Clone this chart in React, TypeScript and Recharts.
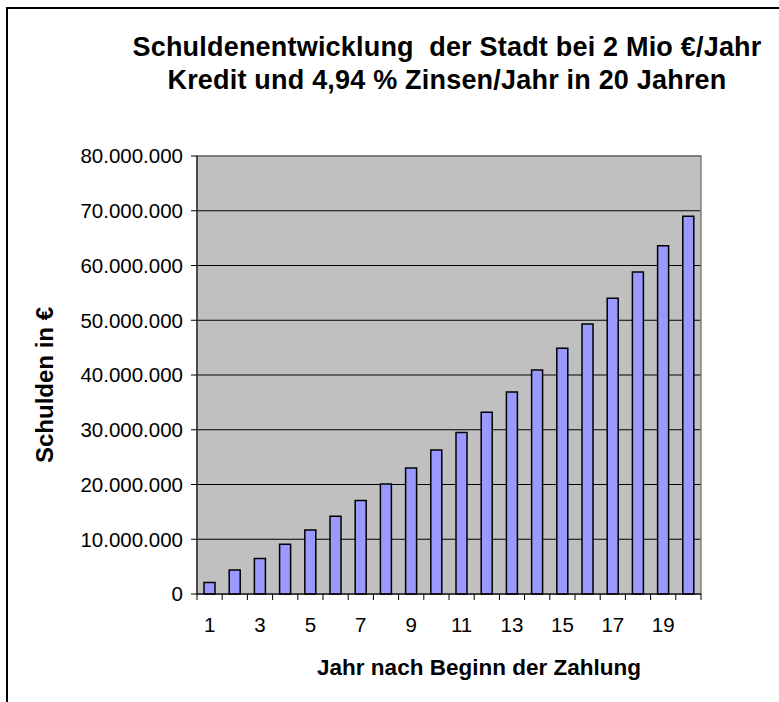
import { Bar, BarChart, CartesianGrid, ReferenceArea, XAxis, YAxis } from "recharts";

const years = ["1", "2", "3", "4", "5", "6", "7", "8", "9", "10", "11", "12", "13", "14", "15", "16", "17", "18", "19", "20"];
const schulden = [
  2100000, 4400000, 6500000, 9100000, 11700000, 14200000, 17100000, 20100000, 23000000, 26300000,
  29500000, 33200000, 36900000, 40900000, 44900000, 49300000, 54000000, 58800000, 63600000, 69000000,
];
const yTicks = [0, 10000000, 20000000, 30000000, 40000000, 50000000, 60000000, 70000000, 80000000];

const data = years.map((jahr, i) => ({ jahr, schulden: schulden[i] }));

const font = "'Liberation Sans', Arial, sans-serif";
const W = 779;
const H = 702;
const margin = { top: 156, right: 78, bottom: 68, left: 77 };
const yAxisWidth = 120;
const plotWidth = W - margin.left - yAxisWidth - margin.right;
const halfBand = plotWidth / years.length / 2;

const fmt = (v: number) => String(v).replace(/\B(?=(\d{3})+(?!\d))/g, ".");

function YearTick(props: any) {
  const { x, y, payload, index } = props;
  return (
    <g>
      <line x1={x - halfBand} x2={x - halfBand} y1={y - 6} y2={y} stroke="#000" />
      {index === years.length - 1 && <line x1={x + halfBand} x2={x + halfBand} y1={y - 6} y2={y} stroke="#000" />}
      {index % 2 === 0 && (
        <text x={x} y={y + 32} textAnchor="middle" fontSize={20.5} fontFamily={font} fill="#000">
          {payload.value}
        </text>
      )}
    </g>
  );
}

export default function App() {
  return (
    <div style={{ position: "absolute", left: 0, top: 0, width: W, height: H, overflow: "hidden", background: "#fff", fontFamily: font }}>
      <div style={{ position: "absolute", left: 6, top: 7, width: 820, height: 740, border: "2px solid #000", boxSizing: "border-box" }} />
      <div style={{ position: "absolute", left: 0, top: 31, width: 894, textAlign: "center", fontSize: 27, letterSpacing: 0.2, fontWeight: "bold", lineHeight: "33px", whiteSpace: "pre" }}>
        {"Schuldenentwicklung  der Stadt bei 2 Mio €/Jahr\nKredit und 4,94 % Zinsen/Jahr in 20 Jahren"}
      </div>
      <div style={{ position: "absolute", left: -55, top: 372, width: 200, height: 26, lineHeight: "26px", textAlign: "center", fontSize: 24, fontWeight: "bold", transform: "rotate(-90deg)" }}>
        Schulden in €
      </div>
      <div style={{ position: "absolute", left: 279, top: 657, width: 400, lineHeight: "22px", textAlign: "center", fontSize: 22.5, fontWeight: "bold" }}>
        Jahr nach Beginn der Zahlung
      </div>
      <div style={{ position: "absolute", left: 0, top: 0 }}>
        <BarChart width={W} height={H} data={data} margin={margin} barCategoryGap={0}>
          <CartesianGrid vertical={false} stroke="#000" fill="#c0c0c0" fillOpacity={1} />
          <XAxis
            dataKey="jahr"
            interval={0}
            height={40}
            tickLine={false}
            tickSize={6}
            tickMargin={0}
            axisLine={{ stroke: "#000" }}
            tick={<YearTick />}
          />
          <YAxis
            width={yAxisWidth}
            domain={[0, 80000000]}
            ticks={yTicks}
            interval={0}
            tickFormatter={fmt}
            tickSize={6}
            tickMargin={8}
            axisLine={{ stroke: "#000" }}
            tickLine={{ stroke: "#000" }}
            tick={{ fontSize: 20.5, fontFamily: font, fill: "#000" }}
          />
          <ReferenceArea y1={0} y2={80000000} fill="none" stroke="#808080" strokeWidth={1.5} ifOverflow="visible" />
          <Bar dataKey="schulden" fill="#9999ff" stroke="#000" strokeWidth={1.5} barSize={11} isAnimationActive={false} />
        </BarChart>
      </div>
    </div>
  );
}
